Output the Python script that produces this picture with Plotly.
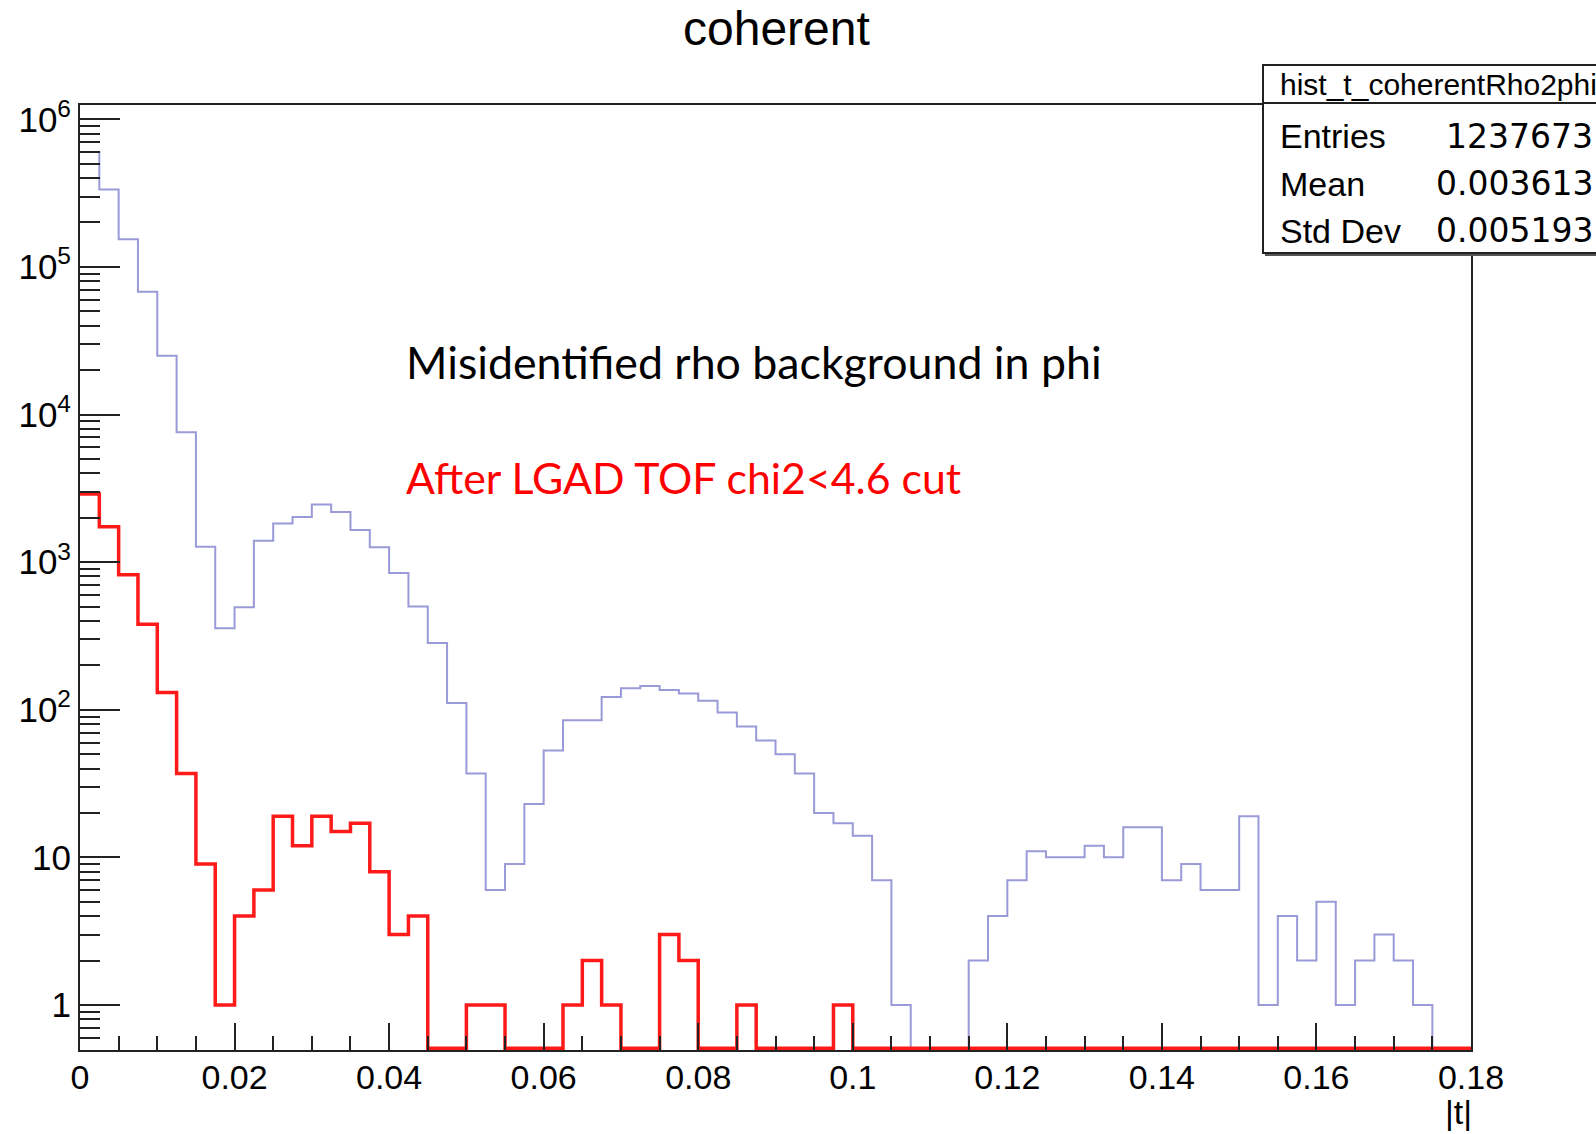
import plotly.graph_objects as go

# ---------------- data ----------------
t_min, t_max, n_bins = 0.0, 0.18, 72

# all misidentified rho candidates (blue histogram), counts per |t| bin
counts_all = [600000, 334000, 154000, 68000, 25000, 7600, 1270, 356, 495, 1395,
              1830, 2020, 2455, 2190, 1650, 1260, 843, 500, 283, 111,
              37, 6, 9, 23, 53, 85, 85, 122, 140, 145,
              136, 129, 115, 96, 77, 62, 50, 37, 20, 17,
              14, 7, 1, 0, 0, 0, 2, 4, 7, 11,
              10, 10, 12, 10, 16, 16, 7, 9, 6, 6,
              19, 1, 4, 2, 5, 1, 2, 3, 2, 1,
              0, 0]

# after LGAD TOF chi2<4.6 cut (red histogram)
counts_cut = [2890, 1740, 820, 380, 131, 37, 9, 1, 4, 6,
              19, 12, 19, 15, 17, 8, 3, 4, 0, 0,
              1, 1, 0, 0, 0, 1, 2, 1, 0, 0,
              3, 2, 0, 0, 1, 0, 0, 0, 0, 1,
              0, 0, 0, 0, 0, 0, 0, 0, 0, 0,
              0, 0, 0, 0, 0, 0, 0, 0, 0, 0,
              0, 0, 0, 0, 0, 0, 0, 0, 0, 0,
              0, 0]

x_tick_vals = [0, 0.02, 0.04, 0.06, 0.08, 0.1, 0.12, 0.14, 0.16, 0.18]
x_tick_text = ["0", "0.02", "0.04", "0.06", "0.08", "0.1", "0.12", "0.14", "0.16", "0.18"]
y_tick_vals = [1, 10, 100, 1000, 10000, 100000, 1000000]
y_tick_text = ["1", "10", "10<sup>2</sup>", "10<sup>3</sup>", "10<sup>4</sup>",
               "10<sup>5</sup>", "10<sup>6</sup>"]
y_minor_vals = [m * 10 ** k for k in range(-1, 6) for m in range(2, 10) if m * 10 ** k >= 0.5]

chart_title = "coherent"
x_title = "|t|"
note_black = "Misidentified rho background in phi"
note_red = "After LGAD TOF chi2<4.6 cut"
stats_name = "hist_t_coherentRho2phi"
stats_labels = ["Entries", "Mean", "Std Dev"]
stats_values = ["1237673", "0.003613", "0.005193"]

# ---------------- layout geometry ----------------
W, H = 1596, 1134
L, R, T, B = 80, 125, 105, 84
PW, PH = W - L - R, H - T - B
Y_LOG_RANGE = [-0.305, 6.097]
HELV = "Liberation Sans, Arial, sans-serif"


def px(xp):
    return (xp - L) / PW


def py(yp):
    return (H - B - yp) / PH


bin_edges = [t_min + i * (t_max - t_min) / n_bins for i in range(n_bins + 1)]
floor_val = 10 ** (Y_LOG_RANGE[0] + 0.012)


def step(counts):
    y = [c if c > 0 else floor_val for c in counts]
    return bin_edges, y + [y[-1]]


fig = go.Figure()
xb, yb = step(counts_all)
fig.add_trace(go.Scatter(x=xb, y=yb, mode="lines", line=dict(color="#9a9ad8", width=2, shape="hv"),
                         hoverinfo="skip"))
xr, yr = step(counts_cut)
fig.add_trace(go.Scatter(x=xr, y=yr, mode="lines", line=dict(color="#ff1a1a", width=3.5, shape="hv"),
                         hoverinfo="skip"))

axis_col = "#222222"
fig.update_layout(
    width=W, height=H,
    margin=dict(l=L, r=R, t=T, b=B, pad=0),
    paper_bgcolor="white", plot_bgcolor="white",
    showlegend=False,
    font=dict(family=HELV, size=35, color="black"),
    xaxis=dict(range=[t_min, t_max], tickmode="array", tickvals=x_tick_vals, ticktext=x_tick_text,
               ticks="inside", ticklen=27, tickwidth=2, tickcolor=axis_col,
               showline=True, linecolor=axis_col, linewidth=2, mirror=True,
               showgrid=False, zeroline=False, tickfont=dict(size=34), ticklabelstandoff=-4,
               minor=dict(tickmode="linear", tick0=0, dtick=0.005, ticks="inside", ticklen=14,
                          tickwidth=2, tickcolor=axis_col, showgrid=False)),
    yaxis=dict(type="log", range=Y_LOG_RANGE, tickmode="array", tickvals=y_tick_vals,
               ticktext=y_tick_text, ticks="inside", ticklen=40, tickwidth=2, tickcolor=axis_col,
               showline=True, linecolor=axis_col, linewidth=2, mirror=True,
               showgrid=False, zeroline=False, tickfont=dict(size=35),
               minor=dict(tickmode="array", tickvals=y_minor_vals, ticks="inside", ticklen=20,
                          tickwidth=2, tickcolor=axis_col, showgrid=False)),
)

ann = []
ann.append(dict(text=chart_title, xref="paper", yref="paper", x=px(776.5), y=py(28.4),
                xanchor="center", yanchor="middle", showarrow=False,
                font=dict(size=48, family=HELV, color="black")))
ann.append(dict(text=x_title, xref="paper", yref="paper", x=px(1458), y=py(1112),
                xanchor="center", yanchor="middle", showarrow=False,
                font=dict(size=34, family=HELV, color="black")))
ann.append(dict(text=note_black, xref="paper", yref="paper", x=px(404), y=py(362),
                xanchor="left", yanchor="middle", showarrow=False,
                font=dict(size=44.7, family="Lato, sans-serif", color="black")))
ann.append(dict(text=note_red, xref="paper", yref="paper", x=px(404), y=py(477),
                xanchor="left", yanchor="middle", showarrow=False,
                font=dict(size=42.8, family="Lato, sans-serif", color="#ff0000")))

# stats box
box_l, box_r, box_t, box_b, box_sep = 1263, 1660, 65, 253, 103
shapes = [
    dict(type="rect", xref="paper", yref="paper", x0=px(box_l), x1=px(box_r), y0=py(box_b), y1=py(box_t),
         line=dict(color=axis_col, width=2), fillcolor="white", layer="above"),
    dict(type="line", xref="paper", yref="paper", x0=px(box_l), x1=px(box_r), y0=py(box_sep), y1=py(box_sep),
         line=dict(color=axis_col, width=2), layer="above"),
    dict(type="line", xref="paper", yref="paper", x0=px(box_l + 2), x1=px(box_r), y0=py(box_b + 2), y1=py(box_b + 2),
         line=dict(color="#555555", width=2), layer="above"),
]
ann.append(dict(text=stats_name, xref="paper", yref="paper", x=px(1278), y=py(84),
                xanchor="left", yanchor="middle", showarrow=False,
                font=dict(size=30, family=HELV, color="black")))
row_centers = [136, 184, 231]
for lab, val, yc in zip(stats_labels, stats_values, row_centers):
    ann.append(dict(text=lab, xref="paper", yref="paper", x=px(1278), y=py(yc),
                    xanchor="left", yanchor="middle", showarrow=False,
                    font=dict(size=34, family=HELV, color="black")))
    ann.append(dict(text=val, xref="paper", yref="paper", x=px(1595), y=py(yc),
                    xanchor="right", yanchor="middle", showarrow=False,
                    font=dict(size=33, family="DejaVu Sans, sans-serif", color="black")))

fig.update_layout(annotations=ann, shapes=shapes)
fig.write_html("out.html")
